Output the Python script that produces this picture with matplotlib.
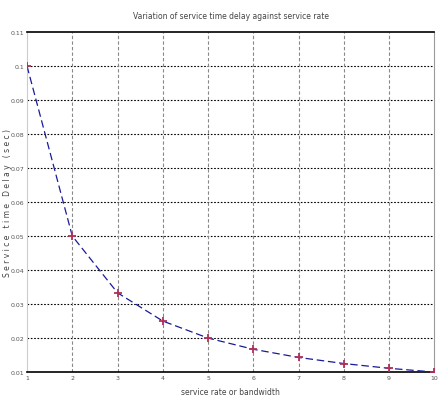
import matplotlib
matplotlib.use("Agg")
import matplotlib.pyplot as plt

service_rate = [1, 2, 3, 4, 5, 6, 7, 8, 9, 10]
delay = [0.1, 0.05, 0.0333, 0.025, 0.02, 0.0167, 0.0143, 0.0125, 0.0111, 0.01]
yticks = [0.01, 0.02, 0.03, 0.04, 0.05, 0.06, 0.07, 0.08, 0.09, 0.1, 0.11]
ytick_labels = ["0.01", "0.02", "0.03", "0.04", "0.05", "0.06", "0.07", "0.08", "0.09", "0.1", "0.11"]
xticks = [1, 2, 3, 4, 5, 6, 7, 8, 9, 10]

fig = plt.figure(figsize=(4.39, 4.02), dpi=100)
ax = fig.add_axes([0.0615, 0.072, 0.928, 0.846])

ax.plot(service_rate, delay, linestyle=(0, (6, 3)), color="#1a1a9a", linewidth=0.9,
        marker="+", markersize=6, markeredgecolor="#b0305a", markeredgewidth=1.3, zorder=3)

ax.set_xlim(1, 10)
ax.set_ylim(0.01, 0.11)
ax.set_xticks(xticks)
ax.set_yticks(yticks)
ax.set_yticklabels(ytick_labels)
ax.tick_params(axis="both", labelsize=4.5, colors="#555555", length=0, pad=2)

for y in yticks[1:-1]:
    ax.axhline(y, color="black", linestyle=(0, (1.5, 1.5)), linewidth=0.8, zorder=1)
for x in xticks[1:-1]:
    ax.axvline(x, color="#888888", linestyle=(0, (3, 2)), linewidth=0.8, zorder=1)

ax.spines["top"].set_color("black")
ax.spines["top"].set_linewidth(1.2)
ax.spines["bottom"].set_color("black")
ax.spines["bottom"].set_linewidth(1.2)
ax.spines["left"].set_color("#cccccc")
ax.spines["left"].set_linewidth(0.8)
ax.spines["right"].set_color("#999999")
ax.spines["right"].set_linewidth(0.8)

ax.set_title("Variation of service time delay against service rate", fontsize=5.5,
             color="#444444", pad=10)
ax.set_xlabel("service rate or bandwidth", fontsize=5.5, color="#444444", labelpad=5)
ax.set_ylabel("S e r v i c e   t i m e   D e l a y   ( s e c )", fontsize=5.5, color="#444444")
ax.yaxis.set_label_coords(-0.038, 0.5)

fig.savefig("out.png", dpi=100)
